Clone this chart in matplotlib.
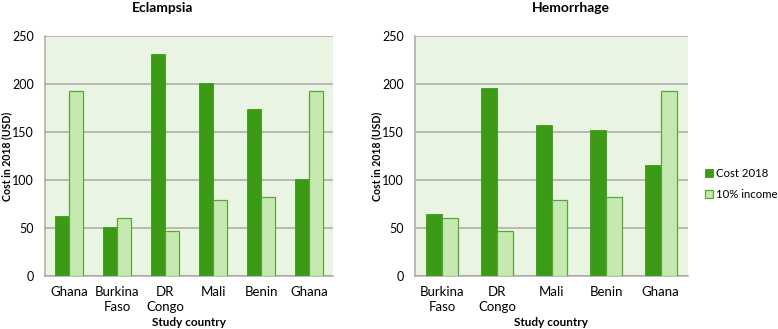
import numpy as np
import matplotlib.pyplot as plt

plt.rcParams['font.family'] = ['Lato', 'DejaVu Sans']

# Eclampsia panel
ecl_countries = ['Ghana', 'Burkina\nFaso', 'DR\nCongo', 'Mali', 'Benin', 'Ghana']
ecl_cost = [62, 51, 231, 201, 174, 101]
ecl_income = [193, 60, 47, 79, 82, 193]

# Hemorrhage panel
hem_countries = ['Burkina\nFaso', 'DR\nCongo', 'Mali', 'Benin', 'Ghana']
hem_cost = [65, 196, 157, 152, 116]
hem_income = [60, 47, 79, 82, 193]

y_ticks = [0, 50, 100, 150, 200, 250]

DARK = '#3b9a16'
LIGHT = '#c6e9b2'
EDGE = '#5aa63a'
BG = '#eaf4e3'
GRID = '#a9aaa6'

fig = plt.figure(figsize=(7.78, 3.29), dpi=100)
ax1 = fig.add_axes([45 / 778, 1 - 276 / 329, 288 / 778, 240 / 329])
ax2 = fig.add_axes([415 / 778, 1 - 276 / 329, 273 / 778, 240 / 329])


def draw_panel(ax, countries, cost, income):
    x = np.arange(len(countries))
    w = 0.29
    b1 = ax.bar(x - w / 2, cost, w, color=DARK, edgecolor=DARK, linewidth=0.6, label='Cost 2018', zorder=3)
    b2 = ax.bar(x + w / 2, income, w, color=LIGHT, edgecolor=EDGE, linewidth=0.9, label='10% income', zorder=3)
    ax.set_xlim(-0.5, len(countries) - 0.5)
    ax.set_ylim(0, 250)
    ax.set_yticks(y_ticks)
    ax.set_xticks(x)
    ax.set_xticklabels(countries, fontsize=9.5, linespacing=1.35)
    ax.tick_params(axis='y', labelsize=9, length=0, pad=8)
    ax.tick_params(axis='x', length=0, pad=7)
    ax.set_facecolor(BG)
    ax.grid(axis='y', color=GRID, linewidth=1.1, zorder=0)
    ax.set_axisbelow(True)
    for s in ['top', 'right']:
        ax.spines[s].set_visible(False)
    for s in ['left', 'bottom']:
        ax.spines[s].set_color(GRID)
        ax.spines[s].set_linewidth(1.1)
    ax.set_ylabel('Cost in 2018 (USD)', fontsize=7.6, fontweight='bold')
    ax.set_xlabel('Study country', fontsize=8.5, fontweight='bold', labelpad=3)
    return b1, b2


draw_panel(ax1, ecl_countries, ecl_cost, ecl_income)
ax1.yaxis.set_label_coords(-0.113, 0.5)
b1, b2 = draw_panel(ax2, hem_countries, hem_cost, hem_income)
ax2.yaxis.set_label_coords(-0.12, 0.5)

fig.text(163 / 778, 1 - 8 / 329, 'Eclampsia', ha='center', va='center', fontsize=10, fontweight='bold')
fig.text(571 / 778, 1 - 8 / 329, 'Hemorrhage', ha='center', va='center', fontsize=10, fontweight='bold')

fig.legend([b1, b2], ['Cost 2018', '10% income'], loc='center left',
           bbox_to_anchor=(700 / 778, 1 - 184 / 329), borderaxespad=0, frameon=False, fontsize=8.2,
           handlelength=0.7, handleheight=0.7, handletextpad=0.3, labelspacing=0.85)

fig.savefig('out.png', dpi=100)
